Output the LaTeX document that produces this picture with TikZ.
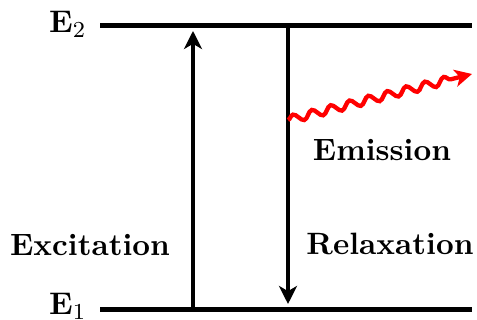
\documentclass[tikz,border=0pt]{standalone}
\usetikzlibrary{arrows.meta,decorations.pathmorphing}
\usepackage{amsmath}

\begin{document}
\begin{tikzpicture}[x=0.35pt,y=-0.35pt,
    level/.style={line width=1.75pt},
    trans/.style={line width=1.4pt,-{Stealth[length=6.3pt,width=6.3pt,inset=1.8pt]}},
    photon/.style={red,line width=1.5pt,decorate,
      decoration={snake,amplitude=1.4pt,segment length=6.8pt,post length=5pt},
      -{Stealth[length=6pt,width=6pt,inset=1.6pt]}},
    lbl/.style={font=\bfseries\fontsize{10.8}{13}\selectfont}]
  \useasboundingbox (0,0) rectangle (477,320);
  % energy levels
  \coordinate (e2l) at (100,26);  \coordinate (e2r) at (472,26);
  \coordinate (e1l) at (100,310); \coordinate (e1r) at (472,310);
  \draw[level] (e2l) -- (e2r);
  \draw[level] (e1l) -- (e1r);
  \node[lbl,anchor=base east,inner sep=0pt] (E2) at (87,33) {$\mathbf{E}_2$};
  \node[lbl,anchor=base east,inner sep=0pt] (E1) at (87,315) {$\mathbf{E}_1$};
  % transitions
  \coordinate (upfrom) at (193,310); \coordinate (upto) at (193,31);
  \coordinate (dnfrom) at (288,26);  \coordinate (dnto) at (288,304);
  \draw[trans] (upfrom) -- (upto);
  \draw[trans] (dnfrom) -- (dnto);
  \coordinate (phfrom) at (288,120); \coordinate (phto) at (472,74);
  \draw[photon] (phfrom) -- (phto);
  % labels
  \node[lbl] (exc) at (90,245) {Excitation};
  \node[lbl] (rel) at (390,244) {Relaxation};
  \node[lbl] (emi) at (382,150) {Emission};
\end{tikzpicture}
\end{document}
